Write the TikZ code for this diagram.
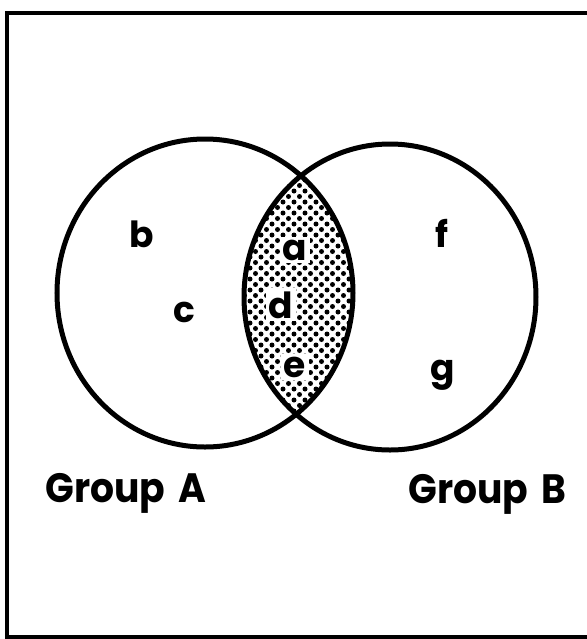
\documentclass[tikz,border=0pt]{standalone}
\usepackage{fontspec}
\setmainfont{Poppins}
\usepackage{tikz}
\usetikzlibrary{positioning}
\definecolor{inkblack}{RGB}{0,0,0}
\tikzstyle{venncircle} = [line width=2.5pt, draw=inkblack]
\tikzstyle{setlabel} = [anchor=base, fill=white, inner sep=1.5pt, font=\fontsize{18}{20}\selectfont\bfseries]
\tikzstyle{grouplabel} = [anchor=base west, inner sep=0, xscale=0.92, transform shape, font=\fontsize{20.5}{24}\selectfont\bfseries]

\begin{document}
\begin{tikzpicture}[x=0.5pt, y=-0.5pt]

\useasboundingbox (0,0) rectangle (587,639);

% Frame
\draw[line width=2pt] (7,13) rectangle (589,637);

% Shaded overlap (dot screen)
\begin{scope}
\clip (205,293) circle[x radius=148, y radius=154];
\clip (390,297) circle[x radius=146, y radius=153];
\foreach \px in {228,239,...,374}
  \foreach \py in {158,169,...,434}
    \fill (\px,\py) circle[radius=2.5];
\foreach \px in {233.5,244.5,...,374}
  \foreach \py in {163.5,174.5,...,434}
    \fill (\px,\py) circle[radius=2.5];
\end{scope}

% Circles
\draw[venncircle] (205,293) circle[x radius=148, y radius=154];
\draw[venncircle] (390,297) circle[x radius=146, y radius=153];

% Region labels
\node[setlabel] (b) at (142,247) {b};
\node[setlabel] (c) at (184,322) {c};
\node[setlabel] (a) at (295,260) {a};
\node[setlabel] (d) at (281,318) {d};
\node[setlabel] (e) at (295,377) {e};
\node[setlabel] (f) at (442,247) {f};
\node[setlabel] (g) at (443,380) {g};

% Group labels
\node[grouplabel] (groupA) at (45,502) {Group\hspace{0.35em}A};
\node[grouplabel] (groupB) at (408,503) {Group\hspace{0.35em}B};

\end{tikzpicture}
\end{document}
